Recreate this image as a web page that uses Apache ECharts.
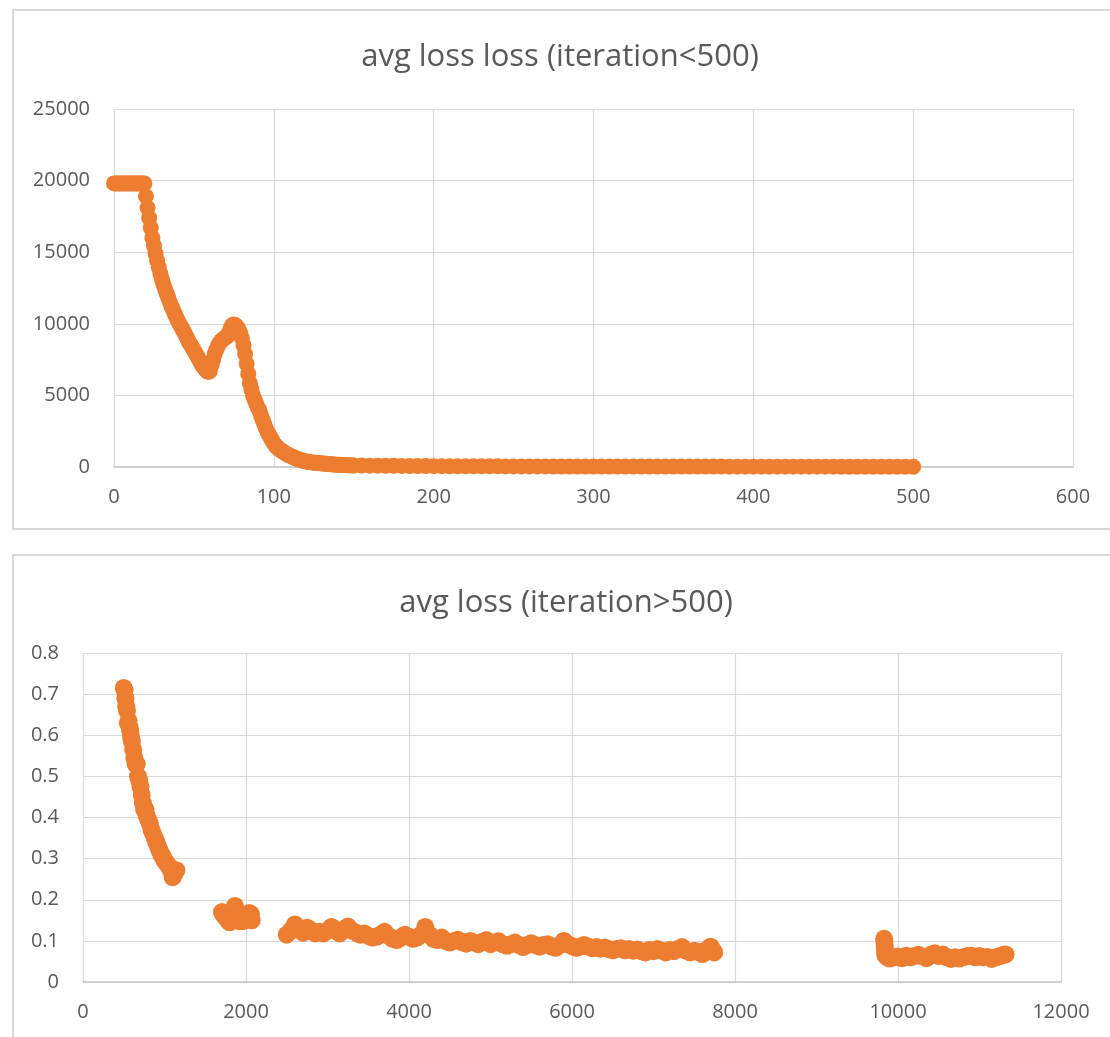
<!DOCTYPE html>
<html>
<head>
<meta charset="utf-8">
<title>avg loss</title>
<script src="https://cdn.jsdelivr.net/npm/echarts@6/dist/echarts.min.js"></script>
<style>
  html, body { margin: 0; padding: 0; background: #ffffff; }
  #chart { width: 1110px; height: 1037px; }
</style>
</head>
<body>
<div id="chart"></div>
<script>
// Average loss for the first iterations, one value per iteration (0..150)
var earlyLoss = [
  19800, 19800, 19800, 19800, 19800, 19800, 19800, 19800, 19800, 19800,
  19800, 19800, 19800, 19800, 19800, 19800, 19800, 19800, 19800, 19800,
  18900, 18100, 17400, 16700, 16000, 15450, 14900, 14400, 13950, 13500,
  13100, 12750, 12400, 12100, 11800, 11500, 11200, 10950, 10700, 10450,
  10200, 10000, 9800, 9600, 9400, 9150, 8950, 8700, 8550, 8350,
  8150, 7950, 7750, 7550, 7350, 7150, 6980, 6830, 6700, 6640,
  6700, 7100, 7500, 7900, 8200, 8450, 8650, 8800, 8900, 9000,
  9050, 9150, 9400, 9700, 9900, 9950, 9900, 9800, 9600, 9350,
  9000, 8500, 7900, 7200, 6500, 5850, 5400, 5000, 4700, 4400,
  4150, 3950, 3600, 3300, 3000, 2700, 2450, 2250, 2050, 1850,
  1650, 1500, 1380, 1280, 1190, 1110, 1040, 970, 900, 840,
  790, 740, 690, 640, 590, 550, 510, 480, 450, 420,
  390, 370, 350, 335, 320, 305, 290, 280, 270, 260,
  250, 240, 230, 220, 210, 200, 190, 180, 170, 165,
  160, 150, 145, 140, 135, 130, 125, 120, 115, 110,
  105
];

// Remaining iterations up to 500
var tailIter = [
  155, 160, 165, 170, 175, 180, 185, 190, 195, 200,
  205, 210, 215, 220, 225, 230, 235, 240, 245, 250,
  255, 260, 265, 270, 275, 280, 285, 290, 295, 300,
  305, 310, 315, 320, 325, 330, 335, 340, 345, 350,
  355, 360, 365, 370, 375, 380, 385, 390, 395, 400,
  405, 410, 415, 420, 425, 430, 435, 440, 445, 450,
  455, 460, 465, 470, 475, 480, 485, 490, 495, 500
];
var tailLoss = [
  100, 95, 90, 85, 80, 75, 70, 66, 62, 58,
  55, 53, 51, 49, 47, 46, 45, 44, 43, 42,
  41, 40, 39, 38, 37, 37, 36, 36, 35, 35,
  34, 34, 33, 33, 32, 32, 31, 31, 30, 30,
  29, 29, 28, 28, 27, 27, 26, 26, 25, 25,
  24, 24, 23, 23, 22, 22, 21, 21, 20, 20,
  19, 19, 18, 18, 17, 17, 16, 16, 15, 15
];

// Average loss after iteration 500, logged over four separate runs
var run1Iter = [
  500, 510, 520, 530, 540, 550, 560, 570, 580, 590, 600, 615, 630, 645, 660,
  675, 690, 705, 720, 735, 750, 765, 780, 800, 820, 840, 860, 880, 900, 920,
  940, 960, 980, 1000, 1020, 1040, 1060, 1080, 1100, 1115, 1130, 1145
];
var run1Loss = [
  0.715, 0.71, 0.69, 0.67, 0.66, 0.63, 0.635, 0.62, 0.61, 0.595, 0.585, 0.565, 0.545, 0.53, 0.53,
  0.50, 0.49, 0.475, 0.455, 0.435, 0.42, 0.42, 0.405, 0.395, 0.385, 0.37, 0.36, 0.35, 0.34, 0.33,
  0.32, 0.31, 0.305, 0.295, 0.29, 0.285, 0.28, 0.27, 0.255, 0.26, 0.27, 0.272
];

var run2Iter = [
  1705, 1720, 1740, 1760, 1780, 1800, 1820, 1840, 1865, 1880,
  1900, 1920, 1940, 1960, 1980, 2000, 2020, 2040, 2060, 2070
];
var run2Loss = [
  0.17, 0.165, 0.16, 0.155, 0.15, 0.145, 0.15, 0.17, 0.185, 0.16,
  0.15, 0.148, 0.15, 0.148, 0.15, 0.155, 0.16, 0.168, 0.165, 0.15
];

var run3Iter = [
  2500, 2550, 2600, 2650, 2700, 2750, 2800, 2850, 2900, 2950,
  3000, 3050, 3100, 3150, 3200, 3250, 3300, 3350, 3400, 3450,
  3500, 3550, 3600, 3650, 3700, 3750, 3800, 3850, 3900, 3950,
  4000, 4050, 4100, 4150, 4200, 4250, 4300, 4350, 4400, 4450,
  4500, 4550, 4600, 4650, 4700, 4750, 4800, 4850, 4900, 4950,
  5000, 5050, 5100, 5150, 5200, 5250, 5300, 5350, 5400, 5450,
  5500, 5550, 5600, 5650, 5700, 5750, 5800, 5850, 5900, 5950,
  6000, 6050, 6100, 6150, 6200, 6250, 6300, 6350, 6400, 6450,
  6500, 6550, 6600, 6650, 6700, 6750, 6800, 6850, 6900, 6950,
  7000, 7050, 7100, 7150, 7200, 7250, 7300, 7350, 7400, 7450,
  7500, 7550, 7600, 7650, 7700, 7720, 7745
];
var run3Loss = [
  0.115, 0.125, 0.14, 0.13, 0.12, 0.132, 0.125, 0.118, 0.122, 0.118,
  0.125, 0.134, 0.125, 0.118, 0.128, 0.135, 0.125, 0.12, 0.115, 0.118,
  0.112, 0.108, 0.11, 0.115, 0.122, 0.112, 0.105, 0.102, 0.108, 0.115,
  0.11, 0.105, 0.108, 0.115, 0.134, 0.115, 0.105, 0.102, 0.108, 0.10,
  0.096, 0.10, 0.103, 0.097, 0.093, 0.10, 0.096, 0.092, 0.098, 0.102,
  0.092, 0.096, 0.099, 0.092, 0.088, 0.092, 0.096, 0.09, 0.085, 0.09,
  0.094, 0.09, 0.086, 0.09, 0.092, 0.086, 0.083, 0.09, 0.10, 0.092,
  0.087, 0.083, 0.086, 0.09, 0.086, 0.082, 0.085, 0.081, 0.084, 0.08,
  0.077, 0.08, 0.082, 0.077, 0.08, 0.076, 0.079, 0.075, 0.072, 0.078,
  0.075, 0.08, 0.076, 0.072, 0.078, 0.075, 0.08, 0.085, 0.076, 0.072,
  0.076, 0.073, 0.068, 0.078, 0.086, 0.08, 0.072
];

var run4Iter = [
  9830, 9833, 9836, 9839, 9842, 9846, 9870, 9900, 9950, 10000,
  10050, 10100, 10150, 10200, 10250, 10300, 10350, 10400, 10450, 10500,
  10550, 10600, 10650, 10700, 10750, 10800, 10850, 10900, 10950, 11000,
  11050, 11100, 11150, 11200, 11250, 11300, 11320
];
var run4Loss = [
  0.105, 0.097, 0.089, 0.081, 0.073, 0.065, 0.06, 0.057, 0.06, 0.062,
  0.058, 0.064, 0.06, 0.063, 0.066, 0.062, 0.058, 0.066, 0.07, 0.063,
  0.067, 0.06, 0.056, 0.06, 0.057, 0.06, 0.063, 0.064, 0.06, 0.063,
  0.06, 0.061, 0.056, 0.06, 0.063, 0.066, 0.067
];

var TEXT = '#595959';
var GRID = '#d9d9d9';
var AXIS = '#c6c6c6';
var ORANGE = '#ED7D31';
var FONT = 'Open Sans';

function pairs(xs, ys) { return xs.map(function (x, i) { return [x, ys[i]]; }); }

var earlyPoints = earlyLoss.map(function (v, i) { return [i, v]; })
  .concat(pairs(tailIter, tailLoss));
var latePoints = pairs(run1Iter, run1Loss)
  .concat(pairs(run2Iter, run2Loss))
  .concat(pairs(run3Iter, run3Loss))
  .concat(pairs(run4Iter, run4Loss));

function plainNumber(v) { return String(Math.round(v * 10) / 10); }

function xAxis(gridIndex, max, interval) {
  return {
    type: 'value', gridIndex: gridIndex, min: 0, max: max, interval: interval,
    axisLine: { show: true, lineStyle: { color: AXIS, width: 1.5 } },
    axisTick: { show: false },
    axisLabel: { color: TEXT, fontSize: 20, fontFamily: FONT, margin: 20, formatter: plainNumber },
    splitLine: { show: true, lineStyle: { color: GRID, width: 1.2 } }
  };
}
function yAxis(gridIndex, max, interval) {
  return {
    type: 'value', gridIndex: gridIndex, min: 0, max: max, interval: interval,
    axisLine: { show: false },
    axisTick: { show: false },
    axisLabel: { color: TEXT, fontSize: 20, fontFamily: FONT, margin: 24, formatter: plainNumber },
    splitLine: { show: true, lineStyle: { color: GRID, width: 1.2 } }
  };
}

var chart = echarts.init(document.getElementById('chart'), null, { renderer: 'canvas' });
chart.setOption({
  animation: false,
  backgroundColor: '#ffffff',
  graphic: [
    { type: 'rect', shape: { x: 13, y: 10, width: 1120, height: 519 },
      style: { fill: 'none', stroke: GRID, lineWidth: 2 }, silent: true, z: -10 },
    { type: 'rect', shape: { x: 13, y: 555, width: 1120, height: 520 },
      style: { fill: 'none', stroke: GRID, lineWidth: 2 }, silent: true, z: -10 },
    { type: 'text', x: 560, y: 57,
      style: { text: 'avg loss loss (iteration<500)', fill: TEXT, font: '31px "Open Sans"',
               textAlign: 'center', textVerticalAlign: 'middle' } },
    { type: 'text', x: 566, y: 603,
      style: { text: 'avg loss (iteration>500)', fill: TEXT, font: '31px "Open Sans"',
               textAlign: 'center', textVerticalAlign: 'middle' } }
  ],
  grid: [
    { left: 114, top: 109, width: 959, height: 358 },
    { left: 83, top: 653, width: 978, height: 329 }
  ],
  xAxis: [ xAxis(0, 600, 100), xAxis(1, 12000, 2000) ],
  yAxis: [ yAxis(0, 25000, 5000), yAxis(1, 0.8, 0.1) ],
  series: [
    { type: 'scatter', xAxisIndex: 0, yAxisIndex: 0, data: earlyPoints,
      symbol: 'circle', symbolSize: 16, itemStyle: { color: ORANGE, opacity: 1 } },
    { type: 'scatter', xAxisIndex: 1, yAxisIndex: 1, data: latePoints,
      symbol: 'circle', symbolSize: 18, itemStyle: { color: ORANGE, opacity: 1 } }
  ]
});
</script>
</body>
</html>
